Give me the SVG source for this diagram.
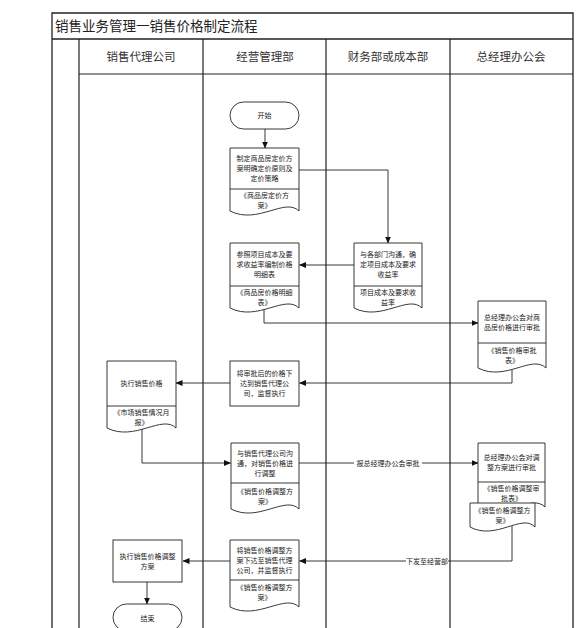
<svg xmlns="http://www.w3.org/2000/svg" width="577" height="628" viewBox="0 0 577 628">
<defs>
<marker id="ah" markerWidth="7" markerHeight="6" refX="6.5" refY="3" orient="auto" markerUnits="userSpaceOnUse">
<path d="M0,0 L7,3 L0,6 Z" fill="#111"/>
</marker>
<style>
.frame{fill:none;stroke:#222;stroke-width:1.3}
.lane{fill:none;stroke:#222;stroke-width:1.2}
.box{fill:#fff;stroke:#222;stroke-width:0.9}
.conn{fill:none;stroke:#222;stroke-width:0.9;marker-end:url(#ah)}
.line{fill:none;stroke:#222;stroke-width:0.9}
text{font-family:"Noto Sans CJK SC","Noto Sans",sans-serif;fill:#222}
.t{font-size:7px;text-anchor:middle}
.h{font-size:11.5px;text-anchor:middle;fill:#333}
.title{font-size:13.5px}
.lbl{font-size:7px;text-anchor:middle}
</style>
</defs>
<rect width="577" height="628" fill="#fff"/>
<g id="frame">
<path class="frame" d="M52,628 V13 H573 V628"/>
<path class="frame" d="M52,39 H573"/>
<path class="lane" d="M79,39 V628 M79,74 H573 M203,39 V628 M326,39 V628 M450,39 V628"/>
<text class="title" x="55" y="31">销售业务管理一销售价格制定流程</text>
<text class="h" x="141" y="61">销售代理公司</text>
<text class="h" x="265" y="61">经营管理部</text>
<text class="h" x="388" y="61">财务部或成本部</text>
<text class="h" x="511" y="61">总经理办公会</text>
</g>
<g id="connectors">
<path class="conn" d="M265,129 V148"/>
<path class="conn" d="M299,170 H388 V243"/>
<path class="conn" d="M354,265 H299.5"/>
<path class="conn" d="M264,308 V323 H478"/>
<path class="conn" d="M512,369 V383 H299.5"/>
<path class="conn" d="M230,383 H176"/>
<path class="conn" d="M142,429 V463 H230.5"/>
<path class="conn" d="M299,463 H478"/>
<rect x="354" y="458" width="68" height="10" fill="#fff"/>
<text class="lbl" x="388" y="465.5">报总经理办公会审批</text>
<path class="conn" d="M512,526 V561 H299.5"/>
<rect x="406" y="556" width="42" height="10" fill="#fff"/>
<text class="lbl" x="427" y="563.5">下发至经营部</text>
<path class="conn" d="M230,561 H183"/>
<path class="conn" d="M147,582 V604"/>
</g>
<g id="start">
<rect class="box" x="230" y="102" width="69" height="27" rx="13.5"/>
<text class="t" x="264.5" y="118">开始</text>
</g>
<g id="p1">
<path class="box" d="M230,148 H299 V211 C285.2,197 257.6,225 230,211 Z"/>
<path class="line" d="M230,189 H299"/>
<text class="t" x="264.5" y="161">制定商品房定价方</text>
<text class="t" x="264.5" y="171.2">案明确定价原则及</text>
<text class="t" x="264.5" y="181.4">定价策略</text>
<text class="t" x="264.5" y="197.7">《商品房定价方</text>
<text class="t" x="264.5" y="207.9">案》</text>
</g>
<g id="fin">
<path class="box" d="M354,243 H422 V308 C408.4,294 381.2,322 354,308 Z"/>
<path class="line" d="M354,286 H422"/>
<text class="t" x="388" y="257">与各部门沟通，确</text>
<text class="t" x="388" y="267.2">定项目成本及要求</text>
<text class="t" x="388" y="277.4">收益率</text>
<text class="t" x="388" y="294.7">项目成本及要求收</text>
<text class="t" x="388" y="304.9">益率</text>
</g>
<g id="p2">
<path class="box" d="M230,243 H299 V308 C285.2,294 257.6,322 230,308 Z"/>
<path class="line" d="M230,286 H299"/>
<text class="t" x="264.5" y="257">参照项目成本及要</text>
<text class="t" x="264.5" y="267.2">求收益率编制价格</text>
<text class="t" x="264.5" y="277.4">明细表</text>
<text class="t" x="264.5" y="294.7">《商品房价格明细</text>
<text class="t" x="264.5" y="304.9">表》</text>
</g>
<g id="gm1">
<path class="box" d="M478,301 H546 V368 C532.4,354 505.2,382 478,368 Z"/>
<path class="line" d="M478,343 H546"/>
<text class="t" x="512" y="319.6">总经理办公会对商</text>
<text class="t" x="512" y="329.8">品房价格进行审批</text>
<text class="t" x="512" y="352.7">《销售价格审批</text>
<text class="t" x="512" y="362.9">表》</text>
</g>
<g id="p3">
<rect class="box" x="230" y="361" width="69" height="45"/>
<text class="t" x="264.5" y="376">将审批后的价格下</text>
<text class="t" x="264.5" y="386.2">达到销售代理公</text>
<text class="t" x="264.5" y="396.4">司，监督执行</text>
</g>
<g id="s1">
<path class="box" d="M107,361 H176 V428 C162.2,414 134.6,442 107,428 Z"/>
<path class="line" d="M107,406 H176"/>
<text class="t" x="141.5" y="386.2">执行销售价格</text>
<text class="t" x="141.5" y="414.7">《市场销售情况月</text>
<text class="t" x="141.5" y="424.9">报》</text>
</g>
<g id="p4">
<path class="box" d="M231,443 H299 V509 C285.4,495 258.2,523 231,509 Z"/>
<path class="line" d="M231,483 H299"/>
<text class="t" x="265" y="455.5">与销售代理公司沟</text>
<text class="t" x="265" y="465.7">通，对销售价格进</text>
<text class="t" x="265" y="475.9">行调整</text>
<text class="t" x="265" y="493.7">《销售价格调整方</text>
<text class="t" x="265" y="503.9">案》</text>
</g>
<g id="gm2">
<path class="box" d="M478,443 H545 V507 C531.6,493 504.8,521 478,507 Z"/>
<path class="line" d="M478,482 H545"/>
<text class="t" x="511.5" y="460.1">总经理办公会对调</text>
<text class="t" x="511.5" y="470.3">整方案进行审批</text>
<text class="t" x="511.5" y="490.7">《销售价格调整审</text>
<text class="t" x="511.5" y="500.9">批表》</text>
</g>
<g id="gm2doc">
<path class="box" d="M470,503 H535 V527 C522,513 496,541 470,527 Z"/>
<text class="t" x="502.5" y="512.7">《销售价格调整方</text>
<text class="t" x="502.5" y="522.9">案》</text>
</g>
<g id="p5">
<path class="box" d="M230,540 H299 V607 C285.2,593 257.6,621 230,607 Z"/>
<path class="line" d="M230,580 H299"/>
<text class="t" x="264.5" y="552.5">将销售价格调整方</text>
<text class="t" x="264.5" y="562.7">案下达至销售代理</text>
<text class="t" x="264.5" y="572.9">公司，并监督执行</text>
<text class="t" x="264.5" y="589.7">《销售价格调整方</text>
<text class="t" x="264.5" y="599.9">案》</text>
</g>
<g id="s2">
<rect class="box" x="113" y="540" width="69" height="42"/>
<text class="t" x="147.5" y="558.6">执行销售价格调整</text>
<text class="t" x="147.5" y="568.8">方案</text>
</g>
<g id="end">
<rect class="box" x="113" y="604" width="69" height="27" rx="13.5"/>
<text class="t" x="147.5" y="620.5">结束</text>
</g>
</svg>
